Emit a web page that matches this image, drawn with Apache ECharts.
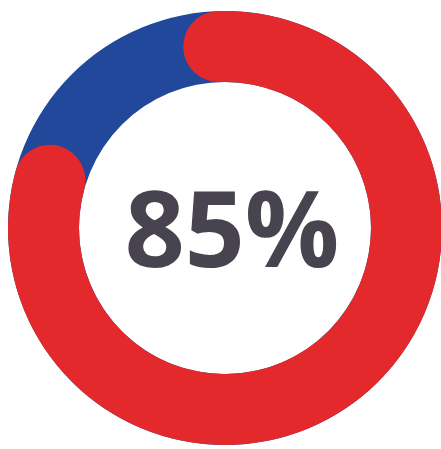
<!DOCTYPE html>
<html>
<head>
<meta charset="utf-8">
<script src="https://cdn.jsdelivr.net/npm/echarts@6/dist/echarts.min.js"></script>
<style>
  html, body { margin: 0; padding: 0; background: #ffffff; }
  #chart { width: 441px; height: 449px; }
</style>
</head>
<body>
<div id="chart"></div>
<script>
// Data
const categories = ['share'];
const redShare = [85];     // percent shown in red
const blueShare = [15];    // remaining percent shown in blue
const centerLabel = '85%';

// Style
const RED = '#e3292b';
const BLUE = '#21489a';
const TEXT = '#47434f';

const W = 441, H = 449;
const cx = 225, cy = 228;
const rInner = 146, rOuter = 217;
const half = Math.min(W, H) / 2;

// round caps extend past the arc ends: keep total visual red length = share
const capUnits = ((rOuter - rInner) / 2) / rOuter / (2 * Math.PI) * (redShare[0] + blueShare[0]);
const redArc = redShare.map(v => v - 2 * capUnits);

const chart = echarts.init(document.getElementById('chart'), null, { renderer: 'canvas' });
chart.setOption({
  backgroundColor: '#ffffff',
  animation: false,
  polar: {
    center: [cx, cy],
    radius: [rInner / half * 100 + '%', rOuter / half * 100 + '%']
  },
  angleAxis: {
    min: 0,
    max: redShare[0] + blueShare[0],
    startAngle: 92,
    clockwise: true,
    show: false
  },
  radiusAxis: {
    type: 'category',
    data: categories,
    show: false
  },
  series: [{
    type: 'bar',
    coordinateSystem: 'polar',
    data: redArc,
    roundCap: true,
    barCategoryGap: '0%',
    showBackground: true,
    backgroundStyle: { color: BLUE },
    itemStyle: { color: RED }
  }],
  graphic: [{
    type: 'text',
    style: {
      text: centerLabel,
      x: cx + 7,
      y: cy + 9,
      textAlign: 'center',
      textVerticalAlign: 'middle',
      fontFamily: 'Open Sans',
      fontWeight: 'bold',
      fontSize: 105,
      fill: TEXT
    }
  }]
});
</script>
</body>
</html>
